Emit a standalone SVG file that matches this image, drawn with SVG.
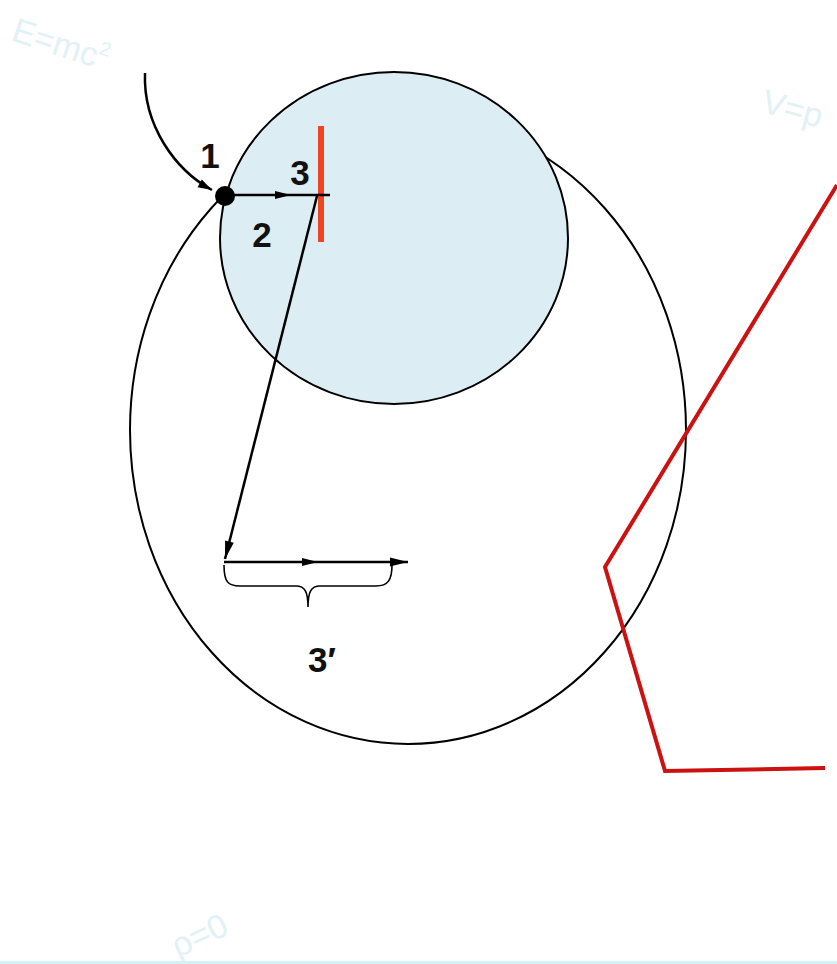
<svg xmlns="http://www.w3.org/2000/svg" width="837" height="964" viewBox="0 0 837 964">
<defs>
<marker id="ah" refX="14" refY="6" markerWidth="15" markerHeight="12" markerUnits="userSpaceOnUse" orient="auto" overflow="visible">
<path d="M0,1.5 L14,6 L0,10.5 z" fill="#000"/>
</marker>
<marker id="ahm" refX="8" refY="5" markerWidth="16" markerHeight="10" markerUnits="userSpaceOnUse" orient="auto" overflow="visible">
<path d="M0,1 L16,5 L0,9 z" fill="#000"/>
</marker>
<marker id="ahb" refX="18" refY="5.5" markerWidth="19" markerHeight="11" markerUnits="userSpaceOnUse" orient="auto" overflow="visible">
<path d="M0,1 L18,5.5 L0,10 z" fill="#000"/>
</marker>
</defs>
<style>
.lbl{font-family:"Liberation Sans",Arial,sans-serif;font-weight:bold;font-size:35px;fill:#111;}
.wm{font-family:"Liberation Sans",Arial,sans-serif;font-size:34px;fill:#e2f1f5;}
.ln{stroke:#000;stroke-width:2.5;fill:none;}
</style>
<rect width="837" height="964" fill="#fff"/>
<g id="watermarks">
<text class="wm" x="10" y="40" transform="rotate(18 10 40)">E=mc<tspan font-size="20" dy="-14">2</tspan></text>
<text class="wm" x="760" y="112" transform="rotate(15 760 112)">V=p</text>
<text class="wm" x="178" y="958" transform="rotate(-25 178 958)">ρ=0</text>
<rect x="0" y="961" width="837" height="3" fill="#d4f1f4"/>
</g>
<g id="large-ellipse">
<ellipse cx="408" cy="430" rx="278" ry="314" fill="none" stroke="#000" stroke-width="2"/>
</g>
<g id="small-circle">
<ellipse cx="394" cy="238" rx="174" ry="166" fill="#dcedf4" stroke="#000" stroke-width="2"/>
</g>
<g id="red-bar">
<rect x="318" y="126" width="6" height="116" fill="#ee4422"/>
</g>
<g id="red-line">
<polyline points="837,185 605,567 665,771 825,768" fill="none" stroke="#cc1111" stroke-width="4"/>
</g>
<g id="connectors">
<path class="ln" d="M145,73 C143,125 175,170 212,190" marker-end="url(#ah)"/>
<path class="ln" d="M225,195 L283,195" marker-end="url(#ahm)"/>
<path class="ln" d="M283,195 L330,195"/>
<path class="ln" d="M317,196 L225,559" marker-end="url(#ahb)"/>
<path class="ln" d="M224,562 L310,562" marker-end="url(#ahm)"/>
<path class="ln" d="M310,562 L408,562" marker-end="url(#ahb)"/>
<path d="M224,565 C224,582 228,586 240,586 L296,586 C305,586 308,592 308,607 C308,592 311,586 320,586 L376,586 C388,586 392,580 392,565" fill="none" stroke="#000" stroke-width="1.6"/>
</g>
<g id="dot">
<circle cx="225" cy="196" r="10" fill="#000"/>
</g>
<g id="labels">
<text class="lbl" x="210" y="168" text-anchor="middle">1</text>
<text class="lbl" x="262" y="247" text-anchor="middle">2</text>
<text class="lbl" x="300" y="185" text-anchor="middle">3</text>
<text class="lbl" x="322" y="672" text-anchor="middle">3′</text>
</g>
</svg>
